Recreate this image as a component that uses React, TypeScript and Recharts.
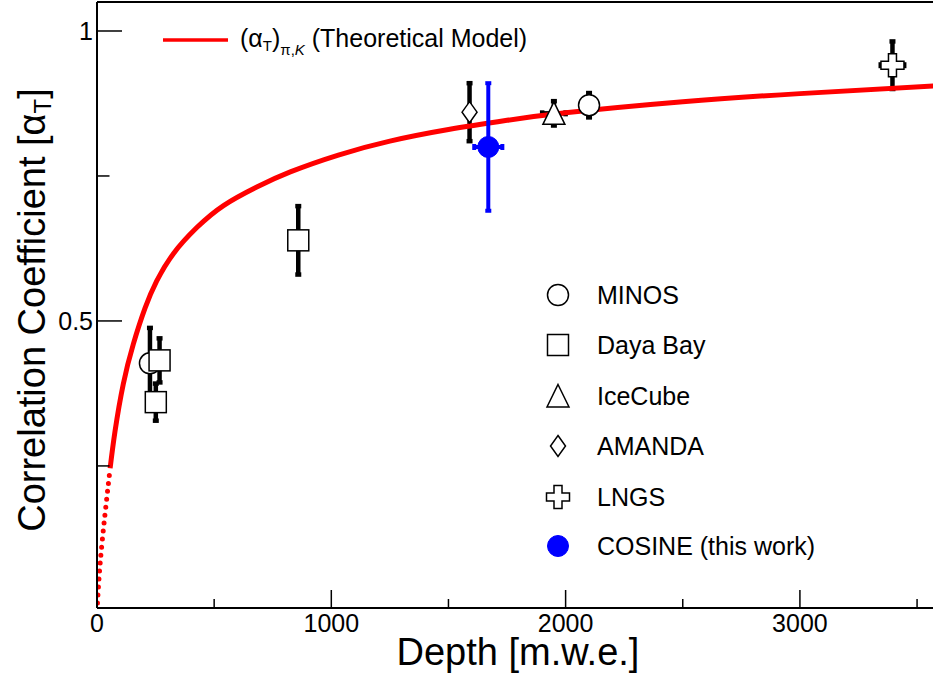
import React from 'react';
import { ComposedChart, Line, Scatter, XAxis, YAxis, ErrorBar, ReferenceLine } from 'recharts';

// ---- data ----
const minosData = [
  { x: 226, y: 0.427, ey: 0.061 },
  { x: 2100, y: 0.872, ey: 0.021 },
];
const dayaBayData = [
  { x: 251, y: 0.36, ey: 0.032 },
  { x: 267, y: 0.432, ey: 0.038 },
  { x: 859, y: 0.639, ey: 0.059 },
];
const iceCubeData = [{ x: 1950, y: 0.858, ey: 0.021, ex: 50 }];
const amandaData = [{ x: 1590, y: 0.86, ey: 0.05 }];
const lngsData = [{ x: 3395, y: 0.941, ey: 0.041, ex: 50 }];
const cosineData = [{ x: 1670, y: 0.8, ey: 0.11, ex: 60 }];

const modelDepth = [0, 13, 34, 56, 77, 112, 155, 205, 255, 326, 426, 540, 682, 825, 1030, 1250, 1500, 1750, 2000, 2500, 3000, 3570];
const modelAlpha = [0, 0.08, 0.166, 0.246, 0.31, 0.391, 0.46, 0.522, 0.569, 0.616, 0.661, 0.699, 0.731, 0.757, 0.786, 0.81, 0.83, 0.846, 0.859, 0.878, 0.892, 0.905];
const dottedUpTo = 56;

const xMajorTicks = [0, 1000, 2000, 3000];
const xTickLabels = ['0', '1000', '2000', '3000'];
const xMinorTicks = [500, 1500, 2500, 3500];
const yMajorTicks = [0.5, 1];
const yTickLabels = ['0.5', '1'];
const yMinorTicks = [0.25, 0.75];

const xDomain = [0, 3568];
const yDomain = [0.005, 1.05];

const legendNames = ['MINOS', 'Daya Bay', 'IceCube', 'AMANDA', 'LNGS', 'COSINE (this work)'];
const legendKinds = ['circle', 'square', 'triangle', 'diamond', 'cross', 'filled'];

// ---- derived tables ----
const modelCurve = modelDepth.map((d, i) => ({ x: d, y: modelAlpha[i] }));
const modelSolid = modelCurve.filter((p) => p.x >= dottedUpTo);
const modelDotted = modelCurve.filter((p) => p.x <= dottedUpTo);

const FONT = '"Liberation Sans", Arial, Helvetica, sans-serif';
const W = 933;
const H = 677;

function Marker({ kind, cx, cy }: { kind: string; cx: number; cy: number }) {
  const st = { stroke: '#000', strokeWidth: 1.5, fill: '#fff' };
  switch (kind) {
    case 'circle':
      return <circle cx={cx} cy={cy} r={10.5} {...st} />;
    case 'square':
      return <rect x={cx - 10.5} y={cy - 10.5} width={21} height={21} {...st} />;
    case 'triangle':
      return <polygon points={`${cx},${cy - 11.5} ${cx + 11},${cy + 11} ${cx - 11},${cy + 11}`} {...st} />;
    case 'diamond':
      return <polygon points={`${cx},${cy - 10.5} ${cx + 7.5},${cy} ${cx},${cy + 10.5} ${cx - 7.5},${cy}`} {...st} />;
    case 'cross': {
      const a = 11.5;
      const t = 4;
      const pts = [
        [cx - t, cy - a], [cx + t, cy - a], [cx + t, cy - t], [cx + a, cy - t], [cx + a, cy + t], [cx + t, cy + t],
        [cx + t, cy + a], [cx - t, cy + a], [cx - t, cy + t], [cx - a, cy + t], [cx - a, cy - t], [cx - t, cy - t],
      ].map((p) => p.join(',')).join(' ');
      return <polygon points={pts} {...st} />;
    }
    case 'filled':
      return <circle cx={cx} cy={cy} r={10.5} fill="#0000ff" stroke="#0000ff" strokeWidth={1} />;
    default:
      return null;
  }
}

const shapeOf = (kind: string) => (p: any) => <Marker kind={kind} cx={p.cx} cy={p.cy} />;

const XTick = (props: any) => {
  const { x, y, payload } = props;
  const v = payload.value;
  const mi = xMajorTicks.indexOf(v);
  const major = mi >= 0;
  return (
    <g>
      {v !== 0 && <line x1={x} y1={y} x2={x} y2={y - (major ? 18 : 9)} stroke="#000" strokeWidth={1.5} />}
      {major && (
        <text x={x} y={y + 24} textAnchor="middle" fontSize={25} fontFamily={FONT} fill="#000">
          {xTickLabels[mi]}
        </text>
      )}
    </g>
  );
};

const YTick = (props: any) => {
  const { x, y, payload } = props;
  const v = payload.value;
  const mi = yMajorTicks.indexOf(v);
  const major = mi >= 0;
  return (
    <g>
      <line x1={x} y1={y} x2={x + (major ? 25 : 12.5)} y2={y} stroke="#000" strokeWidth={1.5} />
      {major && (
        <text x={x - 4} y={y + 9} textAnchor="end" fontSize={25} fontFamily={FONT} fill="#000">
          {yTickLabels[mi]}
        </text>
      )}
    </g>
  );
};

const barBlack = { stroke: '#000', strokeWidth: 4.5, width: 3 };

export default function App() {
  const rowY = [295, 345, 396, 446, 497, 546];
  return (
    <div style={{ position: 'absolute', left: 0, top: 0, width: W, height: H, background: '#fff' }}>
      <ComposedChart width={W} height={H} margin={{ top: 2, right: 0, bottom: 0, left: 0 }}>
        <XAxis
          type="number"
          dataKey="x"
          domain={xDomain}
          allowDataOverflow
          ticks={[...xMajorTicks, ...xMinorTicks].sort((a, b) => a - b)}
          interval={0}
          height={69}
          tickSize={0}
          tickMargin={0}
          tickLine={false}
          axisLine={{ stroke: '#000', strokeWidth: 2 }}
          tick={<XTick />}
        />
        <YAxis
          type="number"
          dataKey="y"
          domain={yDomain}
          allowDataOverflow
          ticks={[...yMinorTicks, ...yMajorTicks].sort((a, b) => a - b)}
          interval={0}
          width={97}
          tickSize={0}
          tickMargin={0}
          tickLine={false}
          axisLine={{ stroke: '#000', strokeWidth: 2 }}
          tick={<YTick />}
        />
        <ReferenceLine y={1.05} stroke="#000" strokeWidth={2} />
        <Scatter data={minosData} isAnimationActive={false} shape={shapeOf('circle')}>
          <ErrorBar dataKey="ey" direction="y" {...barBlack} />
        </Scatter>
        <Scatter data={dayaBayData} isAnimationActive={false} shape={shapeOf('square')}>
          <ErrorBar dataKey="ey" direction="y" {...barBlack} />
        </Scatter>
        <Scatter data={iceCubeData} isAnimationActive={false} shape={shapeOf('triangle')}>
          <ErrorBar dataKey="ey" direction="y" {...barBlack} />
          <ErrorBar dataKey="ex" direction="x" {...barBlack} />
        </Scatter>
        <Scatter data={amandaData} isAnimationActive={false} shape={shapeOf('diamond')}>
          <ErrorBar dataKey="ey" direction="y" {...barBlack} />
        </Scatter>
        <Scatter data={lngsData} isAnimationActive={false} shape={shapeOf('cross')}>
          <ErrorBar dataKey="ey" direction="y" {...barBlack} />
          <ErrorBar dataKey="ex" direction="x" {...barBlack} />
        </Scatter>
        <Line
          data={modelDotted}
          dataKey="y"
          type="natural"
          stroke="#ff0000"
          strokeWidth={5}
          strokeLinecap="round"
          strokeDasharray="0 8"
          dot={false}
          activeDot={false}
          isAnimationActive={false}
        />
        <Line
          data={modelSolid}
          dataKey="y"
          type="natural"
          stroke="#ff0000"
          strokeWidth={5}
          dot={false}
          activeDot={false}
          isAnimationActive={false}
        />
        <Scatter data={cosineData} isAnimationActive={false} shape={shapeOf('filled')}>
          <ErrorBar dataKey="ey" direction="y" stroke="#0000ff" strokeWidth={4} width={3} />
          <ErrorBar dataKey="ex" direction="x" stroke="#0000ff" strokeWidth={4} width={3} />
        </Scatter>
      </ComposedChart>
      <svg
        width={W}
        height={H}
        style={{ position: 'absolute', left: 0, top: 0, pointerEvents: 'none' }}
        fontFamily={FONT}
      >
        {/* model legend */}
        <line x1={163} y1={40} x2={228} y2={40} stroke="#ff0000" strokeWidth={3.5} />
        <text x={240} y={47} fontSize={25} fill="#000">
          (α<tspan fontSize={15} dy={4}>T</tspan>
          <tspan dy={-4}>)</tspan>
          <tspan fontSize={15} dy={8}>
            π,<tspan fontStyle="italic">K</tspan>
          </tspan>
          <tspan dy={-8}> (Theoretical Model)</tspan>
        </text>
        {/* data legend */}
        {legendNames.map((name, i) => (
          <g key={name}>
            <Marker kind={legendKinds[i]} cx={558} cy={rowY[i]} />
            <text x={597} y={rowY[i] + 9} fontSize={25} fill="#000">
              {name}
            </text>
          </g>
        ))}
        {/* axis titles */}
        <text x={518} y={665} textAnchor="middle" fontSize={38} fill="#000">
          Depth [m.w.e.]
        </text>
        <text transform="translate(45,310) rotate(-90)" x={0} y={0} textAnchor="middle" fontSize={38} fill="#000">
          Correlation Coefficient [α<tspan fontSize={24} dy={6}>T</tspan>
          <tspan dy={-6}>]</tspan>
        </text>
      </svg>
    </div>
  );
}
